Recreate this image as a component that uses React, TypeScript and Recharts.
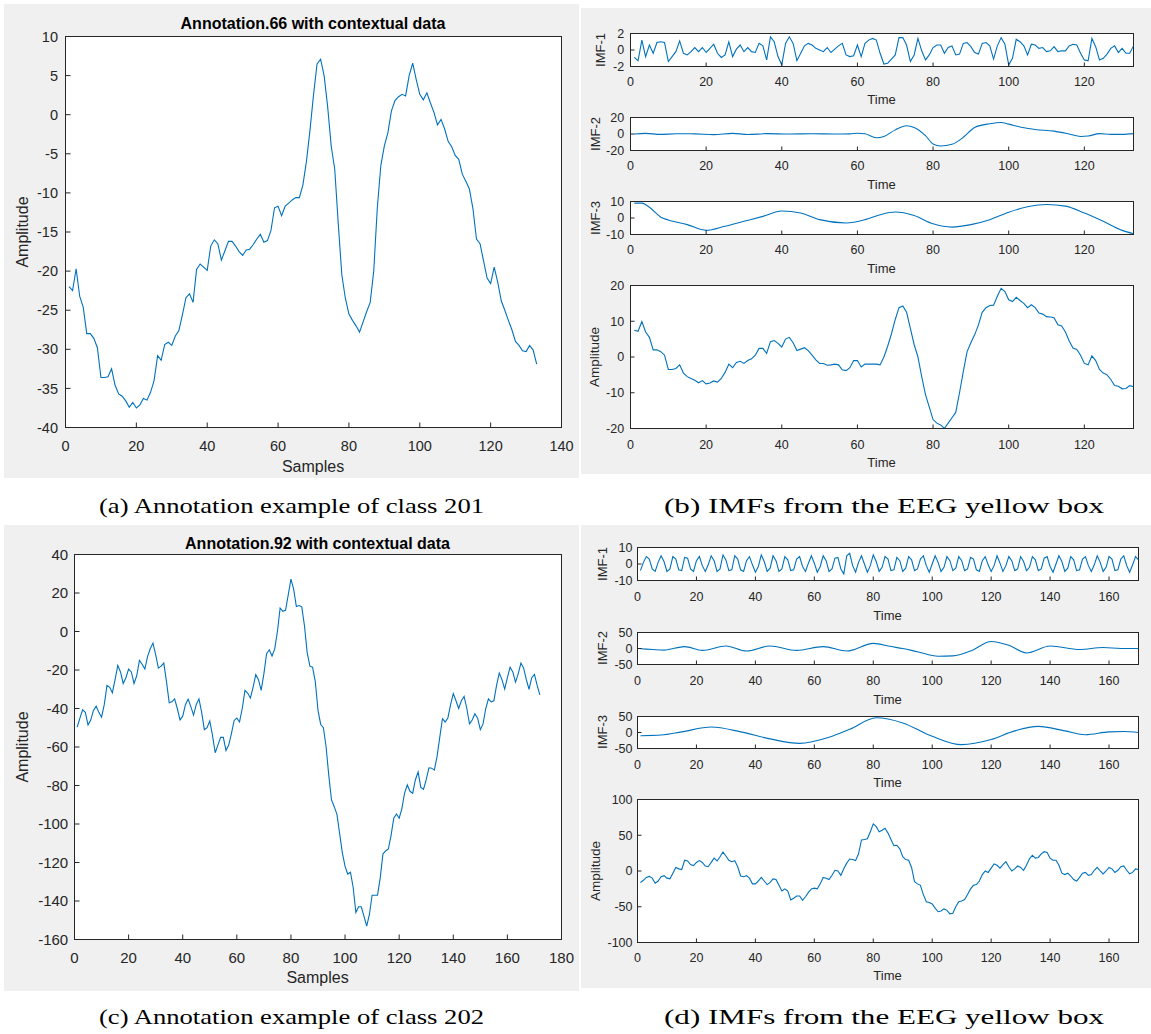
import { LineChart, Line, XAxis, YAxis } from "recharts";

const LINE = "#0072BD";
const AXIS = "#262626";
const PANEL_BG = "#f0f0f0";
const SANS = '"Liberation Sans", Arial, sans-serif';
const SERIF = '"Liberation Serif", "Times New Roman", serif';

// (a) Annotation.66, samples 1..133
const annot66 = [
  -22.0, -22.5, -19.7, -23.2, -24.6, -28.0, -28.0, -28.6, -29.8, -33.6,
  -33.6, -33.5, -32.5, -34.6, -35.7, -36.0, -36.6, -37.4, -36.8, -37.5,
  -37.1, -36.3, -36.5, -35.5, -34.0, -30.8, -31.4, -29.4, -29.1, -29.5,
  -28.3, -27.6, -25.6, -23.4, -22.9, -24.0, -19.8, -19.1, -19.5, -19.9,
  -16.8, -16.0, -16.5, -18.6, -17.4, -16.2, -16.2, -16.8, -17.5, -18.0,
  -17.3, -17.2, -16.6, -15.9, -15.3, -16.3, -16.1, -14.8, -11.9, -11.7,
  -12.9, -11.7, -11.3, -10.9, -10.6, -10.6, -9.0, -6.0, -2.0, 2.5,
  6.5, 7.1, 5.0, 1.0, -4.0, -7.0, -14.0, -20.5, -23.5, -25.5,
  -26.3, -27.0, -27.8, -26.5, -25.2, -24.0, -20.0, -12.0, -6.5, -4.0,
  -2.3, 0.5, 1.8, 2.3, 2.6, 2.4, 5.0, 6.6, 4.5, 2.6,
  1.9, 2.8, 1.5, 0.3, -1.3, -0.6, -1.8, -3.4, -4.1, -5.2,
  -5.7, -7.6, -8.5, -9.5, -12.0, -15.9, -16.5, -18.7, -20.9, -21.6,
  -19.5, -21.4, -23.8, -25.0, -26.3, -27.5, -29.0, -29.5, -30.2, -30.3,
  -29.5, -30.1, -31.9,
];

// (b) IMFs of the class 201 segment
const imfB1 = [
  -0.9, -1.3, 1.2, -0.8, 0.6, -0.4, 0.9, 1.0, 0.9, -1.4,
  -0.8, -0.2, 1.1, -0.4, -0.6, -0.2, 0.3, -0.2, 0.3, -0.3,
  0.2, 0.7, -0.4, -0.9, -0.6, 1.0, -0.8, 0.1, 0.6, -0.2,
  0.3, -0.2, -0.3, 0.8, 0.5, -1.2, 1.6, 1.0, -0.8, -1.8,
  0.8, 1.6, 0.8, -1.3, -0.4, 0.5, 0.8, 0.6, 0.2, 0.0,
  -0.2, 0.3, -0.3, 0.1, 0.5, 0.8, -0.6, -0.8, -0.7, 0.6,
  -0.8, 0.8, 1.2, 1.4, 1.2, -0.4, -1.7, -1.6, -1.1, -0.6,
  1.5, 1.5, 0.6, -1.4, -0.6, 1.4, -0.1, -1.2, -0.6, 0.3,
  0.6, 0.6, -0.4, 0.3, 0.5, -0.6, -0.5, 0.8, 0.9, 0.4,
  -0.3, -0.5, 0.8, 0.9, 0.5, -1.1, 0.5, 1.5, 0.7, -1.8,
  -1.0, 1.3, 1.0, 0.5, -0.6, 0.7, 0.6, 0.2, 0.3, -0.2,
  -0.1, 0.4, -0.2, -0.1, -0.1, 0.5, 0.7, 0.6, -0.4, -1.2,
  -1.3, 1.4, 0.4, -1.2, -1.0, -0.5, 0.2, 0.5, -0.3, 0.2,
  -0.4, -0.4, 0.5,
];
const imfB2X = [1, 4, 8, 12, 17, 22, 27, 31, 36, 42, 48, 54, 58, 60, 62, 65, 67, 70, 73, 75, 78, 80, 82, 85, 88, 91, 95, 98, 100, 103, 107, 112, 116, 119, 121, 124, 127, 130, 133];
const imfB2Y = [0, 0.8, -0.5, 0.3, 0.2, -0.8, 0.8, -0.6, 0.4, 0, 0.3, 0, 0.2, 1.0, 0.3, -4.5, -3, 5, 10, 8, -2, -12, -14.5, -12.5, -4, 8, 12.5, 14, 12, 8.5, 5.5, 3.5, 0, -3, -2.5, 0.5, -0.5, -0.5, 0.5];
const imfB3X = [1, 3, 5, 8, 10, 15, 20, 25, 30, 35, 40, 45, 50, 57, 62, 66, 70, 75, 80, 85, 90, 95, 100, 105, 110, 115, 120, 125, 130, 133];
const imfB3Y = [9, 9, 6.5, 0.5, -1.2, -4, -7.5, -5, -2, 1, 4.2, 3, -1, -3, -1, 2, 3.6, 1.5, -3.5, -5.5, -4, -1, 3.5, 6.8, 8.2, 7.2, 3, -2, -7.5, -9.5];
const ampB = [
  7.5, 7.2, 9.9, 7.0, 5.5, 2.0, 2.0, 1.5, 0.5, -3.5,
  -3.5, -3.2, -2.2, -4.5, -5.5, -6.0, -6.5, -7.2, -6.6, -7.5,
  -7.3, -6.7, -7.0, -6.0, -4.3, -2.0, -3.0, -1.5, -1.2, -1.8,
  -1.0, -0.5, 0.5, 2.4, 2.4, 1.0, 4.3, 4.6, 3.8, 2.8,
  5.0, 5.5, 4.0, 1.8, 2.2, 2.6, 1.8, 0.5, -0.8, -1.8,
  -1.8, -2.3, -2.2, -2.0, -2.2, -3.6, -3.8, -3.0, -1.0, -1.0,
  -2.8, -2.0, -2.0, -2.0, -2.0, -2.2, 0.0, 3.0, 6.5, 10.5,
  13.8, 14.3, 12.5, 8.0, 3.5, 0.0, -5.5, -10.5, -14.0, -17.5,
  -18.5, -19.0, -20.0, -18.5, -17.0, -15.5, -10.0, -4.0, 1.5, 4.0,
  6.2, 9.0, 12.5, 13.8, 14.4, 14.5, 17.0, 19.2, 18.3, 16.0,
  15.5, 16.7, 15.8, 15.0, 13.8, 14.6, 13.8, 12.3, 12.0, 11.3,
  11.2, 11.0, 9.0, 8.7, 7.0, 4.5, 2.5, 2.1, 0.5, -1.8,
  -2.2, 0.3, -1.0, -3.5, -4.5, -5.0, -6.3, -8.0, -8.2, -8.9,
  -8.8, -8.0, -8.3,
];

// (c) Annotation.92, samples 1..172
const annot92 = [
  -49.7, -45, -40.7, -42, -48.5, -46, -41, -38.8, -42, -44.5,
  -38, -28, -29, -31.8, -25, -17.6, -21, -27, -24, -19.5,
  -21, -27, -23, -15, -17, -19.5, -13, -9, -6, -12,
  -19, -18, -16.4, -26, -37, -36.5, -35, -40, -45.9, -44,
  -38, -35.1, -39, -43.4, -38, -35, -42, -51, -50, -46.5,
  -54, -63, -59, -55, -55, -61.8, -59, -53, -46.2, -45,
  -47, -40, -30.6, -32, -34.6, -29, -22.4, -25, -30.6, -22,
  -11.5, -9.5, -12.7, -9, 0, 12.2, 10.5, 11, 19, 27.2,
  22, 13, 13.5, 12.8, 3, -11, -18, -18.5, -26, -41,
  -48.3, -50, -60, -75, -87.5, -91, -95, -105, -115, -122,
  -126, -125, -133, -146, -143, -143, -148, -153, -147, -137,
  -137, -137, -128, -115.6, -114, -113, -106, -97, -94.8, -97,
  -92, -84, -79.7, -83, -84, -77, -73, -81, -82, -77,
  -70.8, -71, -72, -65, -55, -45.3, -47, -45, -38, -32.3,
  -36, -40, -36, -33.7, -40, -48, -46, -42.7, -45, -51,
  -48, -40, -35, -36.5, -36, -28, -21.6, -25, -29.9, -24,
  -18.5, -21, -26.3, -22, -16.4, -19, -25, -30, -24, -22.3,
  -28, -32.9,
];

// (d) IMFs of the class 202 segment
const imfD1 = [
  -4, 1, 4.5, 3, -3, -4.5, 1, 5, 1.5, -4.5,
  -3, 4.5, 3, -3.5, -4, 4, 3.5, -3, -4.5, 2,
  4.5, -1, -4.5, -0.5, 5, 2, -4.5, -3, 5.5, 2.5,
  -4, -3.5, 5, 3, -3.5, -4.5, 2, 4.5, -0.5, -5,
  -1.5, 5.5, 1.5, -4.5, -2.5, 5, 2, -4.5, -3, 4.5,
  2.5, -4, -3.5, 3, 4.5, -1.5, -4.5, 0.5, 5, 0.5,
  -5, -1.5, 5, 2, -4.5, -3, 3.5, 4, -3, -6,
  5, 6.5, -1, -5, 1, 5, 0, -5, -1, 5.5,
  1.5, -4.5, -2, 4.5, 3, -4, -3.5, 4, 2, -4.5,
  -2.5, 4.5, 2.5, -4, -3, 3, 5, -1, -5, 0,
  5, 1, -4.5, -2, 4.5, 2, -4, -2.5, 4.5, 2,
  -4, -3, 4, 3, -3.5, -4.5, 2, 4.5, -0.5, -4.5,
  -1, 5, 0.5, -4.5, -1, 4.5, 2, -4, -3, 4.5,
  1.5, -4, -2, 4.5, 2.5, -4, -3, 3.5, 4.5, -1.5,
  -5, 0, 5, 1.5, -4.5, -2.5, 4.5, 2.5, -4, -3.5,
  3, 4.5, -1, -4.5, -0.5, 5, 1, -4.5, -2, 4.5,
  3, -4, -3.5, 3, 5, -1, -5, -0.5, 4.5, 2.5,
];
const imfD2X = [1, 5, 9, 16, 22, 30, 37, 45, 54, 63, 71, 80, 86, 90, 95, 102, 107, 113, 120, 126, 132, 140, 150, 158, 164, 170];
const imfD2Y = [-1, -3, -5, 6, -6, 8, -8, 8, -6, 6, -8, 16, 6, 0, -10, -24, -23, -8, 22, 10, -14, 8, -3, 3, 0, 0];
const imfD3X = [1, 8, 15, 25, 35, 45, 55, 65, 72, 81, 90, 100, 110, 120, 128, 136, 145, 152, 160, 165, 170];
const imfD3Y = [-10, -8, 2, 17, 2, -20, -34, -15, 10, 46, 30, -12, -38, -22, 5, 19, 5, -7, 2, 3, 0];
const ampD = [
  -16, -13, -9, -7.5, -10, -17, -14, -8, -6.5, -10,
  -11, -3, 5, 3, 2, 15, 14, 9, 7.5, 12,
  14.5, 12, 7, 6, 12, 18, 14, 20, 26.5, 21,
  15, 13, 14.5, 6, -7, -8, -6.5, -10, -18, -18,
  -14, -9, -14, -19, -16, -11, -12, -20, -28, -25,
  -28, -40.6, -38, -35, -35, -41, -36, -30, -25, -24,
  -25, -18, -9, -10, -12, -6, 1, 0, -6, 3,
  11, 16.8, 16, 14.5, 24, 43.5, 44, 45, 55, 65.9,
  62, 55, 57, 59.8, 53, 44, 35.5, 36, 31, 20,
  16, 15, 5, -15, -18, -20, -33, -43, -44, -46,
  -52, -57, -56, -53, -55, -60, -59, -50, -43, -42,
  -40, -33, -25, -20, -19, -14, -5, 0, -2, 4,
  10, 8, 4, 9, 13, 6, 0, 3, 7, 5,
  1, 8, 17, 22, 18, 19, 24, 27, 26, 18,
  15, 15, 8, -3, -5, -3, -7, -12, -14, -9,
  -3, -2, -6, -5, 1, 5, 0, -4, 0, 5,
  3, -2, 1, 6, 7, 1, -4, -2, 3, 2,
];

// tick labels
const ticks140 = [0, 20, 40, 60, 80, 100, 120, 140];
const ticks180 = [0, 20, 40, 60, 80, 100, 120, 140, 160, 180];
const ticks120 = [0, 20, 40, 60, 80, 100, 120];
const ticks160 = [0, 20, 40, 60, 80, 100, 120, 140, 160];

type Pt = { x: number; y: number };
const seq = (ys: number[]): Pt[] => ys.map((y, i) => ({ x: i + 1, y }));
const pairs = (xs: number[], ys: number[]): Pt[] => xs.map((x, i) => ({ x, y: ys[i] }));

const PAD_L = 60;
const PAD_T = 14;
const PAD_R = 24;
const PAD_B = 30;

interface PlotProps {
  left: number;
  top: number;
  width: number;
  height: number;
  data: Pt[];
  xMax: number;
  xTicks: number[];
  yDomain: [number, number];
  yTicks: number[];
  font: number;
  tickLen: number;
  xGap: number;
  yGap: number;
  curve?: "linear" | "monotone";
}

// one MATLAB-style axes box: white plot area, inward ticks on all four sides
function Plot({ left, top, width, height, data, xMax, xTicks, yDomain, yTicks, font, tickLen, xGap, yGap, curve = "linear" }: PlotProps) {
  const tickStyle = { fill: AXIS, fontSize: font, fontFamily: SANS };
  const edge = { stroke: AXIS, strokeWidth: 1 };
  return (
    <>
      <div
        style={{
          position: "absolute",
          left,
          top,
          width: width + 1,
          height: height + 1,
          background: "#fff",
          border: `1px solid ${AXIS}`,
          boxSizing: "border-box",
        }}
      />
      <div style={{ position: "absolute", left: left - PAD_L, top: top - PAD_T }}>
        <LineChart
          width={width + PAD_L + PAD_R}
          height={height + PAD_T + PAD_B}
          data={data}
          margin={{ top: PAD_T + 0.5, right: PAD_R - 0.5, bottom: 0, left: 0.5 }}
        >
          <XAxis
            dataKey="x"
            type="number"
            domain={[0, xMax]}
            ticks={xTicks}
            interval={0}
            allowDataOverflow
            height={PAD_B - 0.5}
            tickSize={-tickLen}
            tickMargin={tickLen + xGap}
            tick={tickStyle}
            axisLine={edge}
            tickLine={edge}
          />
          <XAxis
            xAxisId="top"
            orientation="top"
            type="number"
            domain={[0, xMax]}
            ticks={xTicks}
            interval={0}
            allowDataOverflow
            height={0}
            tickSize={-tickLen}
            tick={false}
            axisLine={edge}
            tickLine={edge}
          />
          <YAxis
            type="number"
            domain={yDomain}
            ticks={yTicks}
            interval={0}
            allowDataOverflow
            width={PAD_L}
            tickSize={-tickLen}
            tickMargin={tickLen + yGap}
            tick={tickStyle}
            axisLine={edge}
            tickLine={edge}
          />
          <YAxis
            yAxisId="right"
            orientation="right"
            type="number"
            domain={yDomain}
            ticks={yTicks}
            interval={0}
            allowDataOverflow
            width={0}
            tickSize={-tickLen}
            tick={false}
            axisLine={edge}
            tickLine={edge}
          />
          <Line type={curve} dataKey="y" stroke={LINE} strokeWidth={1.1} dot={false} isAnimationActive={false} />
        </LineChart>
      </div>
    </>
  );
}

function Text({ x, y, text, size, bold = false, vertical = false }: { x: number; y: number; text: string; size: number; bold?: boolean; vertical?: boolean }) {
  return (
    <div
      style={{
        position: "absolute",
        left: x,
        top: y,
        transform: `translate(-50%, -50%)${vertical ? " rotate(-90deg)" : ""}`,
        fontFamily: SANS,
        fontSize: size,
        fontWeight: bold ? 700 : 400,
        lineHeight: 1,
        whiteSpace: "nowrap",
        color: bold ? "#000" : AXIS,
      }}
    >
      {text}
    </div>
  );
}

function Panel({ x0, y0, x1, y1 }: { x0: number; y0: number; x1: number; y1: number }) {
  return <div style={{ position: "absolute", left: x0, top: y0, width: x1 - x0, height: y1 - y0, background: PANEL_BG }} />;
}

export default function App() {
  return (
    <div style={{ position: "absolute", left: 0, top: 0, width: 1151, height: 1034, background: "#fff", overflow: "hidden" }}>
      <Panel x0={4} y0={4} x1={579} y1={478} />
      <Panel x0={581} y0={8} x1={1151} y1={474} />
      <Panel x0={4} y0={525} x1={579} y1={991} />
      <Panel x0={581} y0={525} x1={1151} y1={988} />

      {/* (a) */}
      <Plot left={65} top={36} width={496} height={391} data={seq(annot66)} xMax={140} xTicks={ticks140}
        yDomain={[-40, 10]} yTicks={[-40, -35, -30, -25, -20, -15, -10, -5, 0, 5, 10]} font={14.5} tickLen={5} xGap={13.5} yGap={7.5} />
      <Text x={313} y={24} text="Annotation.66 with contextual data" size={16} bold />
      <Text x={313} y={466.5} text="Samples" size={16} />
      <Text x={23} y={231.5} text="Amplitude" size={16} vertical />

      {/* (b) */}
      <Plot left={630} top={33} width={503} height={33} data={seq(imfB1)} xMax={133} xTicks={ticks120}
        yDomain={[-2, 2]} yTicks={[-2, 0, 2]} font={12.5} tickLen={4} xGap={11} yGap={6.3} />
      <Text x={881.5} y={99.2} text="Time" size={13} />
      <Text x={600} y={49.5} text="IMF-1" size={13} vertical />
      <Plot left={630} top={117} width={503} height={33} data={pairs(imfB2X, imfB2Y)} xMax={133} xTicks={ticks120}
        yDomain={[-20, 20]} yTicks={[-20, 0, 20]} font={12.5} tickLen={4} xGap={11} yGap={6.3} curve="monotone" />
      <Text x={881.5} y={183.5} text="Time" size={13} />
      <Text x={594.5} y={133.5} text="IMF-2" size={13} vertical />
      <Plot left={630} top={201} width={503} height={33} data={pairs(imfB3X, imfB3Y)} xMax={133} xTicks={ticks120}
        yDomain={[-10, 10]} yTicks={[-10, 0, 10]} font={12.5} tickLen={4} xGap={11} yGap={6.3} curve="monotone" />
      <Text x={881.5} y={268} text="Time" size={13} />
      <Text x={594.5} y={217.5} text="IMF-3" size={13} vertical />
      <Plot left={630} top={285} width={503} height={143} data={seq(ampB)} xMax={133} xTicks={ticks120}
        yDomain={[-20, 20]} yTicks={[-20, -10, 0, 10, 20]} font={12.5} tickLen={4} xGap={11.5} yGap={6.3} />
      <Text x={881.5} y={462} text="Time" size={13} />
      <Text x={594.5} y={356.5} text="Amplitude" size={13.5} vertical />

      {/* (c) */}
      <Plot left={74} top={554} width={487} height={385} data={seq(annot92)} xMax={180} xTicks={ticks180}
        yDomain={[-160, 40]} yTicks={[-160, -140, -120, -100, -80, -60, -40, -20, 0, 20, 40]} font={15} tickLen={5} xGap={13} yGap={6.3} />
      <Text x={317.5} y={544} text="Annotation.92 with contextual data" size={16} bold />
      <Text x={317.5} y={978.4} text="Samples" size={16} />
      <Text x={23} y={746.5} text="Amplitude" size={16} vertical />

      {/* (d) */}
      <Plot left={637} top={547} width={501} height={33} data={seq(imfD1)} xMax={170} xTicks={ticks160}
        yDomain={[-10, 10]} yTicks={[-10, 0, 10]} font={12.5} tickLen={4} xGap={11.5} yGap={5} />
      <Text x={887.5} y={614.5} text="Time" size={13} />
      <Text x={602} y={563.5} text="IMF-1" size={13} vertical />
      <Plot left={637} top={632} width={501} height={32} data={pairs(imfD2X, imfD2Y)} xMax={170} xTicks={ticks160}
        yDomain={[-50, 50]} yTicks={[-50, 0, 50]} font={12.5} tickLen={4} xGap={11.5} yGap={5} curve="monotone" />
      <Text x={887.5} y={698.7} text="Time" size={13} />
      <Text x={602} y={648} text="IMF-2" size={13} vertical />
      <Plot left={637} top={716} width={501} height={32} data={pairs(imfD3X, imfD3Y)} xMax={170} xTicks={ticks160}
        yDomain={[-50, 50]} yTicks={[-50, 0, 50]} font={12.5} tickLen={4} xGap={11.5} yGap={5} curve="monotone" />
      <Text x={887.5} y={782} text="Time" size={13} />
      <Text x={602} y={732} text="IMF-3" size={13} vertical />
      <Plot left={637} top={799} width={501} height={143} data={seq(ampD)} xMax={170} xTicks={ticks160}
        yDomain={[-100, 100]} yTicks={[-100, -50, 0, 50, 100]} font={12.5} tickLen={4} xGap={10.5} yGap={5} />
      <Text x={887.5} y={975} text="Time" size={13} />
      <Text x={595.6} y={870.5} text="Amplitude" size={13.5} vertical />

      {/* sub-figure captions */}
      <svg width={1151} height={1034} style={{ position: "absolute", left: 0, top: 0, pointerEvents: "none" }}>
        <g fontFamily={SERIF} fontSize={22} fill="#000">
          <text x={99} y={513} textLength={385} lengthAdjust="spacingAndGlyphs">(a) Annotation example of class 201</text>
          <text x={664} y={513} textLength={440} lengthAdjust="spacingAndGlyphs">(b) IMFs from the EEG yellow box</text>
          <text x={99} y={1024} textLength={385} lengthAdjust="spacingAndGlyphs">(c) Annotation example of class 202</text>
          <text x={664} y={1024} textLength={440} lengthAdjust="spacingAndGlyphs">(d) IMFs from the EEG yellow box</text>
        </g>
      </svg>
    </div>
  );
}
